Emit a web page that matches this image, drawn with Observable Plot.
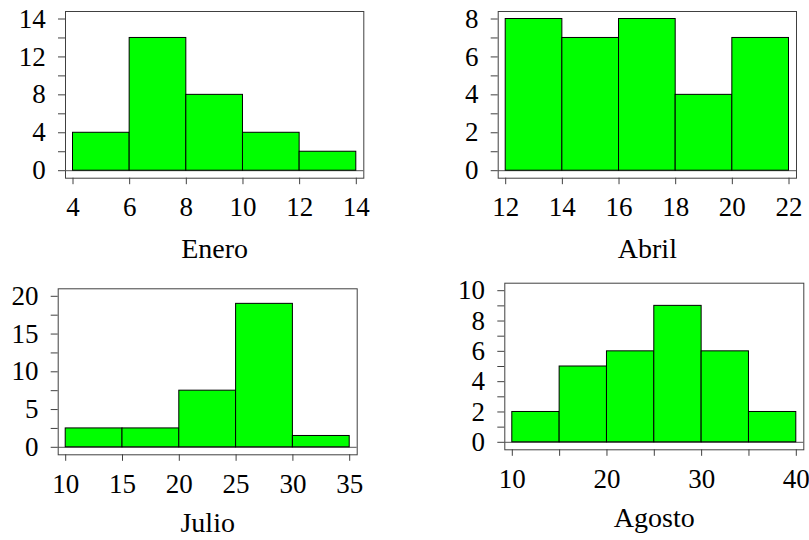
<!DOCTYPE html>
<html><head><meta charset="utf-8">
<script src="https://cdn.jsdelivr.net/npm/d3@7"></script>
<script src="https://cdn.jsdelivr.net/npm/@observablehq/plot@0.6"></script>
<style>
body{margin:0;background:#fff}
#wrap{position:relative;width:809px;height:540px;background:#fff;overflow:hidden}
#wrap>div{position:absolute}
</style>
</head><body><div id="wrap"></div><script>
// ---- data ----
const eneroEdges = [4, 6, 8, 10, 12, 14];
const eneroCounts = [4, 14, 8, 4, 2];
const eneroXTicks = [4, 6, 8, 10, 12, 14];
const eneroYTicks = [0, 2, 4, 6, 8, 10, 12, 14, 16];
const eneroYLabelValues = [0, 4, 8, 12, 16];
const eneroYLabels = ["0", "4", "8", "12", "14"];

const abrilEdges = [12, 14, 16, 18, 20, 22];
const abrilCounts = [8, 7, 8, 4, 7];
const abrilXTicks = [12, 14, 16, 18, 20, 22];
const abrilYTicks = [0, 1, 2, 3, 4, 5, 6, 7, 8];
const abrilYLabelValues = [0, 2, 4, 6, 8];
const abrilYLabels = ["0", "2", "4", "6", "8"];

const julioEdges = [10, 15, 20, 25, 30, 35];
const julioCounts = [2.5, 2.5, 7.5, 19, 1.5];
const julioXTicks = [10, 15, 20, 25, 30, 35];
const julioYTicks = [0, 2.5, 5, 7.5, 10, 12.5, 15, 17.5, 20];
const julioYLabelValues = [0, 5, 10, 15, 20];
const julioYLabels = ["0", "5", "10", "15", "20"];

const agostoEdges = [10, 15, 20, 25, 30, 35, 40];
const agostoCounts = [2, 5, 6, 9, 6, 2];
const agostoXTicks = [10, 15, 20, 25, 30, 35, 40];
const agostoXLabelValues = [10, 20, 30, 40];
const agostoYTicks = [0, 1, 2, 3, 4, 5, 6, 7, 8, 9, 10];
const agostoYLabelValues = [0, 2, 4, 6, 8, 10];
const agostoYLabels = ["0", "2", "4", "6", "8", "10"];

const titles = ["Enero", "Abril", "Julio", "Agosto"];

// ---- drawing ----
const FONT = "\"Liberation Serif\", \"DejaVu Serif\", serif";
const FRAME = "#404040";
const BAR = "#00ff00";

function labeler(values, labels) {
  return d => {
    const i = values.findIndex(v => Math.abs(v - d) < 1e-9);
    return i >= 0 ? labels[i] : "";
  };
}

function panel(o) {
  const bars = o.counts.map((c, i) => ({x1: o.edges[i], x2: o.edges[i + 1], y: c}));
  const chart = Plot.plot({
    width: o.width, height: o.height,
    marginLeft: o.mL, marginRight: o.mR, marginTop: o.mT, marginBottom: o.mB,
    style: {fontSize: "27px", background: "transparent", overflow: "visible", color: "black"},
    x: {domain: [o.xTicks[0], o.xTicks[o.xTicks.length - 1]], insetLeft: 7.5, insetRight: 7.5},
    y: {domain: [0, o.yTicks[o.yTicks.length - 1]], insetTop: 7.5, insetBottom: 7.5},
    marks: [
      Plot.frame({stroke: FRAME, strokeWidth: 1}),
      Plot.ruleY([0], {stroke: "#555", strokeWidth: 1}),
      Plot.rectY(bars, {x1: "x1", x2: "x2", y: "y", fill: BAR, stroke: "black", strokeWidth: 1}),
      Plot.axisY({ticks: o.yTicks, tickSize: 7, tickPadding: 12.7, stroke: FRAME, fill: "black",
        fontSize: 27, tickFormat: labeler(o.yLabelValues, o.yLabels), label: null}),
      Plot.axisX({ticks: o.xTicks, tickSize: 6.5, tickPadding: 12.3, stroke: FRAME, fill: "black",
        fontSize: 27, tickFormat: labeler(o.xLabelValues, o.xLabels), label: null}),
      Plot.text([o.title], {frameAnchor: "bottom", lineAnchor: "bottom", dy: o.titleDy,
        fontSize: 28, fill: "black", text: d => d})
    ]
  });
  const els = [chart, ...chart.querySelectorAll("g, text, tspan")];
  for (const el of els) {
    el.setAttribute("font-family", "Liberation Serif");
    el.style.setProperty("font-family", FONT, "important");
  }
  const div = document.createElement("div");
  div.style.left = o.left + "px";
  div.style.top = o.top + "px";
  div.style.setProperty("font-family", FONT, "important");
  div.appendChild(chart);
  document.getElementById("wrap").appendChild(div);
}

panel({edges: eneroEdges, counts: eneroCounts, xTicks: eneroXTicks,
  xLabelValues: eneroXTicks, xLabels: eneroXTicks.map(String),
  yTicks: eneroYTicks, yLabelValues: eneroYLabelValues, yLabels: eneroYLabels, title: titles[0],
  left: 0, top: 0, width: 400, height: 270, mL: 65, mR: 36.7, mT: 11, mB: 92.3, titleDy: 80});

panel({edges: abrilEdges, counts: abrilCounts, xTicks: abrilXTicks,
  xLabelValues: abrilXTicks, xLabels: abrilXTicks.map(String),
  yTicks: abrilYTicks, yLabelValues: abrilYLabelValues, yLabels: abrilYLabels, title: titles[1],
  left: 400, top: 0, width: 409, height: 270, mL: 97.7, mR: 13, mT: 11, mB: 92.3, titleDy: 80});

panel({edges: julioEdges, counts: julioCounts, xTicks: julioXTicks,
  xLabelValues: julioXTicks, xLabels: julioXTicks.map(String),
  yTicks: julioYTicks, yLabelValues: julioYLabelValues, yLabels: julioYLabels, title: titles[2],
  left: 0, top: 270, width: 400, height: 270, mL: 57.7, mR: 43.3, mT: 18.3, mB: 85.7, titleDy: 77});

panel({edges: agostoEdges, counts: agostoCounts, xTicks: agostoXTicks,
  xLabelValues: agostoXLabelValues, xLabels: agostoXLabelValues.map(String),
  yTicks: agostoYTicks, yLabelValues: agostoYLabelValues, yLabels: agostoYLabels, title: titles[3],
  left: 400, top: 270, width: 409, height: 270, mL: 104.3, mR: 5.7, mT: 12.7, mB: 90.7, titleDy: 77});
</script></body></html>
